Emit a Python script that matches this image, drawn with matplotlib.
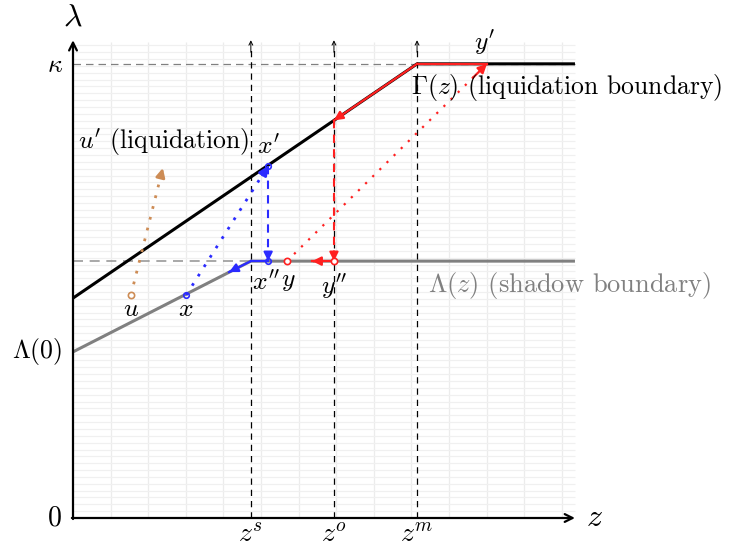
import numpy as np
import matplotlib
matplotlib.use("Agg")
import matplotlib.pyplot as plt

plt.rcParams['mathtext.fontset'] = 'cm'
plt.rcParams['font.family'] = 'cmr10'
plt.rcParams['axes.unicode_minus'] = False

# ---- model values (data units) ----
z_s, z_o, z_m = 4.73, 6.94, 9.15
z_max, lam_max = 13.35, 13.95
kappa = 13.26
Lambda0 = 4.85
Lambda_flat = 7.50
Gamma0 = 6.42

# points
u_pt = (1.54, 6.51)
u_prime = (2.39, 10.22)
x_pt = (3.01, 6.51)
x_prime = (5.19, 10.28)
x_dprime = (5.19, 7.50)
y_pt = (5.69, 7.50)
y_prime = (11.01, 13.26)
y_dprime = (6.94, 7.50)
Gamma_zo = 11.61
blue_end = (4.15, 7.18)
red_end = (6.36, 7.50)

# boundaries
shadow_z = [0, z_s, z_max]
shadow_l = [Lambda0, Lambda_flat, Lambda_flat]
liq_z = [0, z_m, z_max]
liq_l = [Gamma0, kappa, kappa]

BLUE = '#2b2bff'
RED = '#ff2020'
ORANGE = '#cd8c55'
GREY = '#808080'

fig = plt.figure(figsize=(7.33, 5.5), dpi=100)
ax = fig.add_axes([0, 0, 1, 1])
ax.set_xlim(-73/37.6, (733-73)/37.6)
ax.set_ylim(-32/34.25, 518/34.25)
ax.axis('off')

# grid
ax.vlines(np.arange(1, 14), 0, 13.9, color='#ececec', lw=0.9, zorder=0)
ax.hlines(np.arange(0.2, 13.95, 0.2), 0, z_max, color='#f0f0f0', lw=0.9, zorder=0)

def arrow(p0, p1, color, lw, ls='-', scale=12, style='-|>', z=3):
    ax.plot([p0[0], p1[0]], [p0[1], p1[1]], color=color, lw=lw, ls=ls, zorder=z)
    q = (p0[0] + 0.93*(p1[0]-p0[0]), p0[1] + 0.93*(p1[1]-p0[1]))
    ax.annotate('', xy=p1, xytext=q,
                arrowprops=dict(arrowstyle=style, color=color, lw=lw,
                                shrinkA=0, shrinkB=0, mutation_scale=scale),
                zorder=z)

# helper dashed lines
ax.plot([0, z_max], [kappa, kappa], color=GREY, lw=0.9, ls=(0, (6, 4)), zorder=1)
ax.plot([0, z_s], [Lambda_flat, Lambda_flat], color='#999999', lw=1.2, ls=(0, (6, 4)), zorder=1)
for zz in (z_s, z_o, z_m):
    ax.plot([zz, zz], [0, 13.75], color='black', lw=0.9, ls=(0, (5, 4)), zorder=1)
    ax.annotate('', xy=(zz, 13.95), xytext=(zz, 13.6),
                arrowprops=dict(arrowstyle='->', color='black', lw=0.7,
                                shrinkA=0, shrinkB=0, mutation_scale=7))

# boundaries
ax.plot(shadow_z, shadow_l, color=GREY, lw=2.2, zorder=2, solid_capstyle='butt')
ax.plot(liq_z, liq_l, color='black', lw=2.2, zorder=2, solid_capstyle='butt')

# axes
ax.annotate('', xy=(z_max, 0), xytext=(-0.03, 0),
            arrowprops=dict(arrowstyle='->', color='black', lw=1.6, shrinkA=0, shrinkB=0, mutation_scale=14))
ax.annotate('', xy=(0, lam_max), xytext=(0, -0.03),
            arrowprops=dict(arrowstyle='->', color='black', lw=1.6, shrinkA=0, shrinkB=0, mutation_scale=14))

# orange u -> u'
arrow(u_pt, u_prime, ORANGE, 2.0, ls=(0, (1, 3)), scale=13)
ax.plot(*u_pt, 'o', ms=4.5, mfc='white', mec=ORANGE, mew=1.2, zorder=5)

# blue path
arrow(x_pt, x_prime, BLUE, 2.0, ls=(0, (1, 3)), scale=13)
arrow(x_prime, x_dprime, BLUE, 1.5, ls=(0, (4, 3)), scale=13)
ax.plot([x_dprime[0], z_s], [Lambda_flat, Lambda_flat], color=BLUE, lw=1.6, zorder=3)
arrow((z_s, Lambda_flat), blue_end, BLUE, 1.6, scale=13)
for p in (x_pt, x_prime, x_dprime):
    ax.plot(*p, 'o', ms=4.0, mfc='none', mec=BLUE, mew=1.2, zorder=5)

# red path
arrow(y_pt, y_prime, RED, 1.6, ls=(0, (1, 3.5)), scale=13)
ax.plot([y_prime[0], z_m], [kappa, kappa], color=RED, lw=1.6, zorder=3)
arrow((z_m, kappa), (z_o, Gamma_zo), RED, 1.6, scale=13)
arrow((z_o, Gamma_zo), y_dprime, RED, 1.5, ls=(0, (4, 3)), scale=13)
arrow(y_dprime, red_end, RED, 1.6, scale=13)
for p in (y_pt, y_dprime):
    ax.plot(*p, 'o', ms=4.5, mfc='white', mec=RED, mew=1.2, zorder=5)

# labels
fs = 18.5
ax.text(0, 14.6, r'$\lambda$', fontsize=23, ha='center', va='center')
ax.text(-0.25, kappa - 0.05, r'$\kappa$', fontsize=fs, ha='right', va='center')
ax.text(-0.3, Lambda0, r'$\Lambda(0)$', fontsize=fs, ha='right', va='center')
ax.text(-0.3, 0, r'$0$', fontsize=20, ha='right', va='center')
ax.text(z_max + 0.3, 0, r'$z$', fontsize=23, ha='left', va='center')
for zz, lab in ((z_s, r'$z^s$'), (z_o, r'$z^o$'), (z_m, r'$z^m$')):
    ax.text(zz, -0.5, lab, fontsize=20, ha='center', va='center')
ax.text(y_prime[0] - 0.08, 13.9, r"$y'$", fontsize=fs, ha='center', va='center')
ax.text(z_m - 0.15, 12.56, r'$\Gamma(z)$ (liquidation boundary)', fontsize=fs, ha='left', va='center')
ax.text(9.45, 6.8, r'$\Lambda(z)$ (shadow boundary)', fontsize=19, ha='left', va='center', color=GREY)
ax.text(0.13, 10.98, r"$u'$ (liquidation)", fontsize=fs, ha='left', va='center')
ax.text(x_prime[0], 10.85, r"$x'$", fontsize=fs, ha='center', va='center')
ax.text(x_dprime[0] - 0.05, 6.88, r"$x''$", fontsize=fs, ha='center', va='center')
ax.text(5.72, 6.93, r"$y$", fontsize=fs, ha='center', va='center')
ax.text(z_o, 6.75, r"$y''$", fontsize=fs, ha='center', va='center')
ax.text(u_pt[0], 6.1, r"$u$", fontsize=fs, ha='center', va='center')
ax.text(x_pt[0], 6.1, r"$x$", fontsize=fs, ha='center', va='center')

fig.savefig('out.png', dpi=100)
